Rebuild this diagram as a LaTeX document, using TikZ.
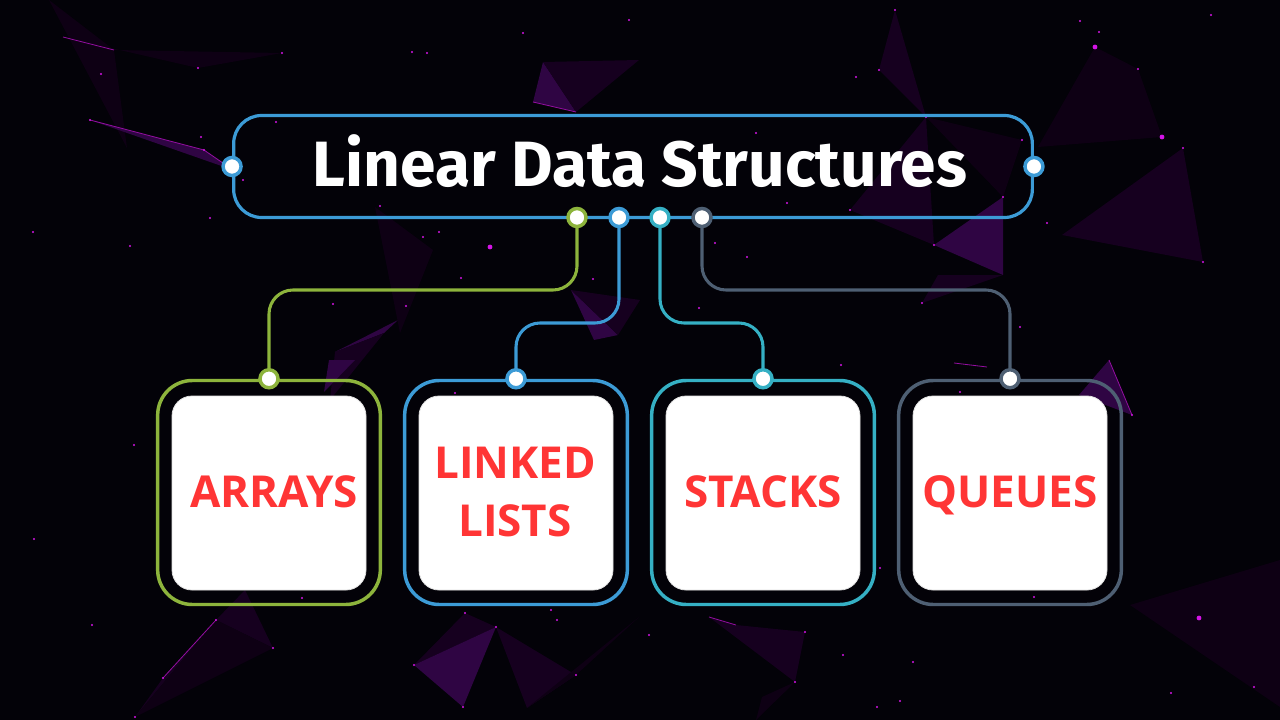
\documentclass[tikz,border=0pt]{standalone}
\usepackage{fontspec}
\setmainfont{Open Sans}
\newfontfamily\titlefont{Fira Sans}
\definecolor{bg}{HTML}{030208}
\definecolor{cgreen}{HTML}{8DB43C}
\definecolor{cblue}{HTML}{3C9BD6}
\definecolor{cteal}{HTML}{35B0C4}
\definecolor{cslate}{HTML}{4E5F73}
\definecolor{lred}{HTML}{FF3535}
\definecolor{pdark}{HTML}{16001F}
\definecolor{pmid}{HTML}{2F0543}
\definecolor{pfaint}{HTML}{0E0014}
\definecolor{pdot}{HTML}{D414E6}
\tikzset{
  tri/.style={fill=pdark},
  trimid/.style={fill=pmid},
  trifaint/.style={fill=pfaint},
  pline/.style={draw=pdot!70!black, line width=0.6pt},
  titlebox/.style={draw=cblue, line width=2.4pt, rounded corners=21pt,
    minimum width=599pt, minimum height=76.5pt, inner sep=0pt},
  titletext/.style={text=white, font=\titlefont\bfseries\fontsize{48}{52}\selectfont,
    anchor=base, inner sep=0pt},
  framebox/.style={line width=2.6pt, rounded corners=26pt,
    minimum width=167pt, minimum height=168pt, inner sep=0pt},
  card/.style={fill=white, draw=black!12, line width=0.6pt, rounded corners=15pt,
    minimum width=145.5pt, minimum height=145.5pt, inner sep=0pt},
  lbl/.style={text=lred, font=\bfseries\fontsize{33}{43.5}\selectfont,
    anchor=base, inner sep=0pt, align=center},
  conn/.style={line width=2.3pt, rounded corners=18pt},
  cdot/.style={circle, fill=white, line width=2.6pt, minimum size=13.5pt, inner sep=0pt}
}
\begin{document}
\begin{tikzpicture}[x=0.75pt,y=-0.75pt]
\fill[bg] (0,0) rectangle (1280,720);
\useasboundingbox (0,0) rectangle (1280,720);
% background polygons
\fill[trifaint] (63,37) -- (114,50) -- (282,53) -- (198,68) -- cycle;
\fill[trifaint] (49,0) -- (114,50) -- (127,148) -- cycle;
\fill[trimid] (90,120) -- (204,150) -- (233,170) -- cycle;
\fill[trimid] (543,62) -- (533,102) -- (576,112) -- cycle;
\fill[tri] (543,62) -- (639,60) -- (576,112) -- cycle;
\fill[trimid] (335,352) -- (398,320) -- (384,333) -- cycle;
\fill[tri] (335,352) -- (384,333) -- (330,400) -- cycle;
\fill[trimid] (571,290) -- (618,335) -- (594,340) -- cycle;
\fill[tri] (571,290) -- (640,300) -- (618,335) -- cycle;
\fill[trifaint] (375,207) -- (433,250) -- (400,333) -- cycle;
\fill[tri] (895,10) -- (879,70) -- (926,117) -- cycle;
\fill[tri] (926,117) -- (850,210) -- (934,245) -- cycle;
\fill[trifaint] (926,117) -- (1022,140) -- (1003,197) -- cycle;
\fill[trimid] (934,245) -- (1003,197) -- (1003,275) -- cycle;
\fill[trifaint] (1095,47) -- (1138,69) -- (1162,137) -- (1038,147) -- cycle;
\fill[tri] (1183,148) -- (1062,235) -- (1203,262) -- cycle;
\fill[tri] (1003,275) -- (938,275) -- (922,303) -- cycle;
\fill[trimid] (329,360) -- (355,360) -- (324,392) -- cycle;
\fill[tri] (216,620) -- (163,678) -- (135,717) -- cycle;
\fill[tri] (245,590) -- (273,648) -- (216,620) -- cycle;
\fill[trifaint] (135,717) -- (273,648) -- (216,620) -- cycle;
\fill[tri] (465,613) -- (496,627) -- (414,665) -- cycle;
\fill[trimid] (414,665) -- (463,707) -- (496,627) -- cycle;
\fill[tri] (496,627) -- (527,708) -- (576,675) -- cycle;
\fill[trifaint] (576,675) -- (639,617) -- (527,708) -- cycle;
\fill[trimid] (1109,360) -- (1132,415) -- (1079,395) -- cycle;
\fill[tri] (709,617) -- (736,625) -- (805,632) -- (795,682) -- cycle;
\fill[trifaint] (762,697) -- (756,720) -- (795,682) -- cycle;
\fill[trifaint] (1130,605) -- (1280,560) -- (1280,707) -- cycle;
\draw[pline] (63,37) -- (114,50);
\draw[pline] (90,120) -- (204,150) -- (233,170);
\draw[pline] (533,102) -- (576,112);
\draw[pline] (1109,360) -- (1132,415);
\draw[pline] (954,363) -- (987,367);
\draw[pline] (709,617) -- (736,625);
\draw[pline] (163,678) -- (216,620);
\foreach \p in {(101,74),(282,53),(198,68),(90,120),(204,150),(243,180),(210,218),(33,232),(130,246),(412,52),(427,53),(523,33),(629,20),(380,206),(439,232),(423,237),(461,278),(593,279),(333,304),(406,306),(276,122),(201,137),(1138,69),(895,10),(1080,21),(1099,32),(1211,15),(1183,148),(1203,262),(879,70),(856,77),(926,117),(1022,140),(1003,197),(850,210),(934,245),(1047,223),(756,133),(787,203),(715,243),(747,257),(699,308),(922,303),(1020,327),(134,445),(34,539),(92,625),(216,620),(163,678),(135,717),(273,648),(302,598),(455,393),(465,613),(496,627),(414,665),(463,707),(576,675),(551,610),(557,620),(841,365),(960,392),(880,568),(1034,597),(913,662),(843,655),(1254,687),(1171,693),(900,701),(877,707),(805,632),(795,682),(1132,415),(649,635)}
  \fill[pdot] \p circle (0.9pt);
\foreach \p in {(1095,47),(1162,137),(490,247),(1199,618)}
  \fill[pdot] \p circle (1.8pt);
% title
\node[titlebox] (title) at (633,166.5) {};
\node[titletext] (ttext) at (640,187) {Linear Data Structures};
% frames and cards
\node[framebox, draw=cgreen] (f1) at (269,492.5) {};
\node[framebox, draw=cblue]  (f2) at (516,492.5) {};
\node[framebox, draw=cteal]  (f3) at (763,492.5) {};
\node[framebox, draw=cslate] (f4) at (1010,492.5) {};
\node[card] (c1) at (269,493) {};
\node[card] (c2) at (516,493) {};
\node[card] (c3) at (763,493) {};
\node[card] (c4) at (1010,493) {};
\node[lbl] (l1) at (274,507) {ARRAYS};
\node[lbl] (l2) at (515,536) {LINKED\\LISTS};
\node[lbl] (l3) at (763,507) {STACKS};
\node[lbl] (l4) at (1010,507) {QUEUES};
% connector start points
\coordinate (t1) at (577,217.5);
\coordinate (t2) at (619,217.5);
\coordinate (t3) at (660,217.5);
\coordinate (t4) at (702,217.5);
\draw[conn, cgreen] (t1) -- ++(0,72.5) -| (f1.north);
\draw[conn, cblue]  (t2) -- ++(0,105.5) -| (f2.north);
\draw[conn, cteal]  (t3) -- ++(0,105.5) -| (f3.north);
\draw[conn, cslate] (t4) -- ++(0,72.5) -| (f4.north);
% dots
\node[cdot, draw=cblue] (dl) at (title.west) {};
\node[cdot, draw=cblue] (dr) at (title.east) {};
\node[cdot, draw=cgreen] (dt1) at (t1) {};
\node[cdot, draw=cblue]  (dt2) at (t2) {};
\node[cdot, draw=cteal]  (dt3) at (t3) {};
\node[cdot, draw=cslate] (dt4) at (t4) {};
\node[cdot, draw=cgreen] (db1) at (f1.north) {};
\node[cdot, draw=cblue]  (db2) at (f2.north) {};
\node[cdot, draw=cteal]  (db3) at (f3.north) {};
\node[cdot, draw=cslate] (db4) at (f4.north) {};
\end{tikzpicture}
\end{document}
